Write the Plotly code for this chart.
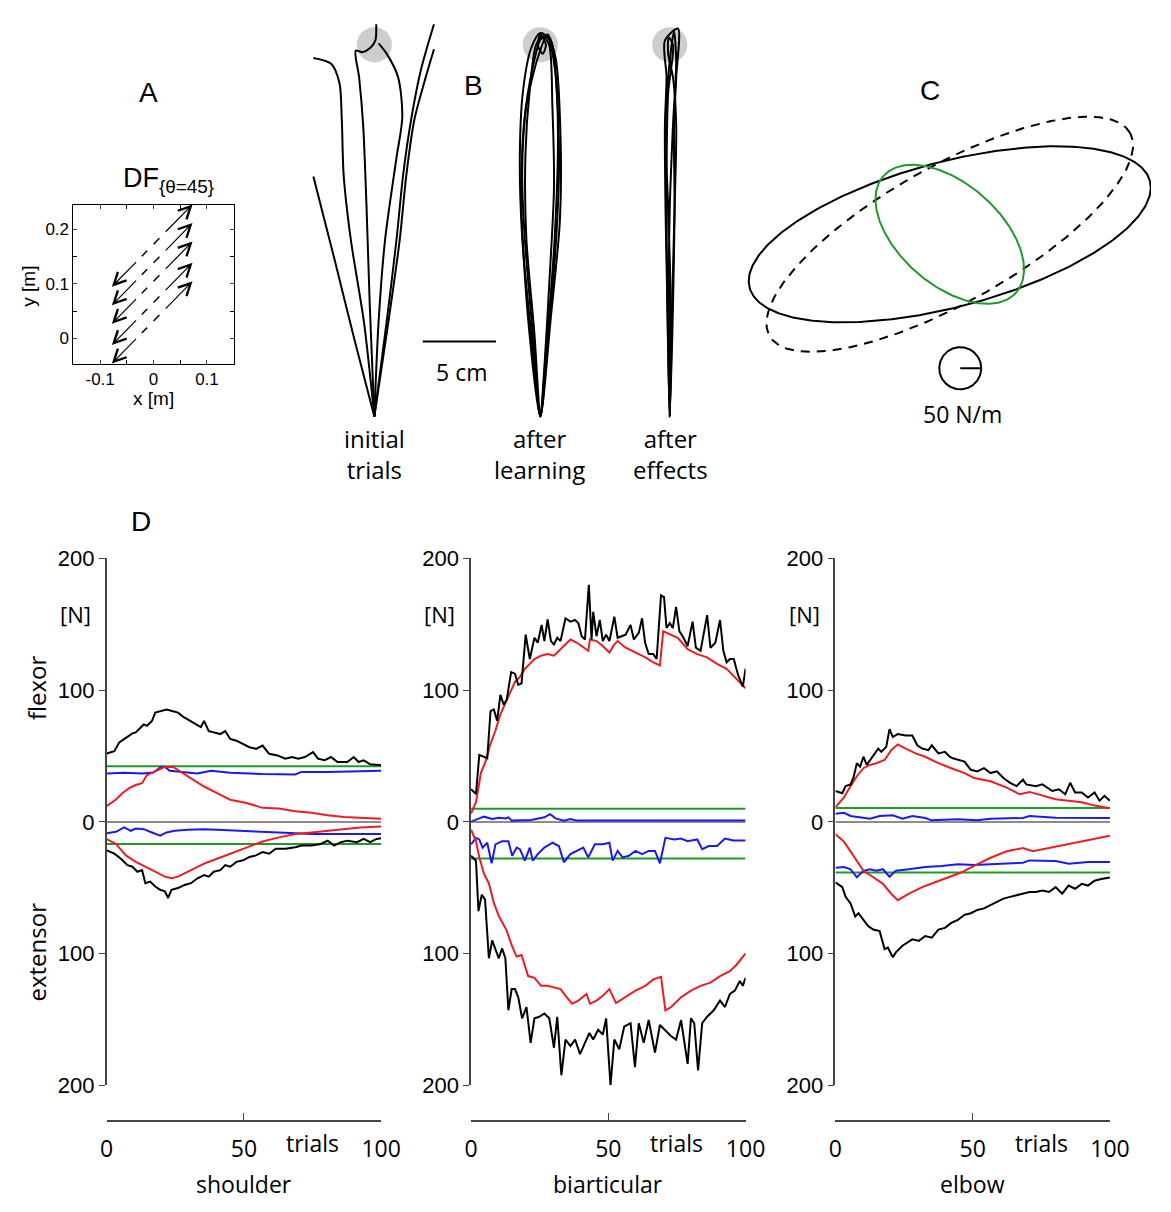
import numpy as np
import plotly.graph_objects as go

W, H = 1171, 1212
ARIAL = "Liberation Sans, Arial, sans-serif"
MYRIAD = "Open Sans, Noto Sans, sans-serif"

# ---------------- Panel A: divergent force field DF (theta = 45) ----------------
A_DIAG_OFFSET = [0.173, 0.139, 0.105, 0.066, 0.032]   # rows of arrows: y = x + c
A_UR_TAIL_X, A_UR_HEAD_X = 0.020, 0.073
A_LL_TAIL_X, A_LL_HEAD_X = -0.030, -0.078
A_DASH_X = [[-0.022, -0.012], [0.000, 0.011]]
A_XTICKS = [-0.1, 0, 0.1]
A_XTICKTEXT = ["-0.1", "0", "0.1"]
A_XMINOR = [-0.05, 0.05]
A_YTICKS = [0, 0.1, 0.2]
A_YTICKTEXT = ["0", "0.1", "0.2"]
A_YMINOR = [0.05, 0.15]

# ---------------- Panel B: hand trajectories [cm] ----------------
B_START_X = [0.0, 11.33, 20.16]
B_TARGET_Y = 25.3
B_TARGET_R = 1.2
B_SCALEBAR_X = [3.3, 8.3]
B_SCALEBAR_Y = 5.1
B_INITIAL_X = [
    [0, -1.38, -2.71, -4.16],
    [0, -0.71, -1.60, -2.09, -2.22, -2.38, -2.93, -4.16],
    [0, -0.31, -0.53, -0.76, -1.04, -1.27, -0.82, -0.27, 0.07, 0.13],
    [0, 0.29, 0.73, 1.51, 1.91, 1.62, 0.84, 0.29],
    [0, 0.84, 1.51, 1.96, 2.51, 3.18, 4.07],
    [0, 0.96, 1.73, 2.18, 2.73, 3.51, 4.07],
]
B_INITIAL_Y = [
    [0, 5.33, 10.67, 16.33],
    [0, 6.44, 12.0, 16.4, 20.2, 22.7, 24.0, 24.4],
    [0, 7.56, 14.2, 19.8, 23.1, 24.9, 24.8, 25.1, 25.6, 26.7],
    [0, 6.44, 12.0, 17.6, 20.4, 23.1, 24.7, 25.4],
    [0, 6.44, 12.0, 16.4, 20.2, 23.6, 26.7],
    [0, 6.44, 12.0, 16.4, 20.2, 23.1, 25.0],
]
B_LEARN_X = [
    [0, -0.62, -1.24, -1.40, -1.18, -0.62, 0, 0.71, 1.11, 1.27, 0.93, 0.38, 0],
    [0, -0.40, -0.96, -1.02, -0.73, -0.29, 0.16, 0.60, 0.82, 0.93, 0.60, 0.27, 0],
    [0, -0.51, -1.07, -1.24, -0.96, -0.18, 0.49, 1.04, 1.38, 1.33, 0.71, 0],
    [0, 0.49, 0.98, 1.20, 1.04, 0.49, 0.04, -0.51, -1.11, -1.29, -0.84, 0],
    [0, -0.18, 0.16, 0.38, 0.04],
]
B_LEARN_Y = [
    [0, 5.56, 12.2, 17.8, 22.2, 25.1, 26.1, 25.6, 22.2, 16.7, 10.0, 4.4, 0],
    [0, 5.56, 12.2, 17.8, 22.2, 25.3, 25.9, 25.3, 21.1, 15.6, 8.9, 3.3, 0],
    [0, 5.56, 12.2, 16.7, 21.1, 24.4, 26.0, 24.4, 18.9, 13.3, 6.7, 0],
    [0, 5.56, 12.2, 18.9, 23.3, 25.8, 25.7, 23.8, 20.0, 14.4, 6.7, 0],
    [26.1, 25.3, 24.7, 25.3, 26.0],
]
B_AFTER_X = [
    [0, -0.16, -0.29, -0.33, -0.22, -0.33, 0.56, 0.44, 0.29, 0.33, 0.22, 0],
    [0, 0.16, 0.33, 0.44, 0.22, -0.11, -0.07, 0.22, -0.11, -0.22, -0.16, 0],
    [0, -0.07, 0, 0.22, 0.44, 0.29, 0, -0.29, -0.11, 0.07, 0],
]
B_AFTER_Y = [
    [0, 7.56, 14.2, 19.8, 23.1, 25.6, 26.4, 23.1, 19.8, 14.2, 7.56, 0],
    [0, 7.56, 14.2, 19.8, 23.1, 24.7, 25.8, 25.3, 22.0, 16.4, 7.56, 0],
    [0, 7.56, 14.2, 19.8, 24.2, 26.2, 24.2, 19.8, 14.2, 7.56, 0],
]

# ---------------- Panel C: stiffness ellipses [N/m] ----------------
C_NAMES = ["solid", "dashed", "green"]
C_SEMI_MAJOR = [493, 492, 210]
C_SEMI_MINOR = [172, 162, 120]
C_ANGLE_DEG = [14.9, 29.3, -41.1]
C_SCALE_CENTER = [25, -318]
C_SCALE_R = 50

# ---------------- Panel D: muscle forces [N] vs trials ----------------
SH = {
    "black_up": ([0, 2.8, 4.6, 6.4, 8.2, 9.4, 10.6, 12.3, 13.5, 14.7, 16.5, 17.7, 19.5, 21.8, 24.2, 26, 27.8, 29.5, 31.9, 34.3,
                  35.5, 37.2, 39, 41.4, 43.2, 45, 47.3, 49.7, 52, 54.4, 56.8, 59.2, 62.2, 65.1, 67.5, 69.8, 72.2, 75.2, 77, 79.4,
                  81.7, 84.1, 87.7, 90, 91.8, 93.6, 96, 100],
                 [52, 53.7, 60.4, 63, 65.4, 67.2, 68, 72, 74, 73, 76.6, 83, 84, 85.3, 84, 83, 80, 78, 75.4, 72,
                  76.6, 69, 68, 66.7, 69, 63, 61.7, 59.2, 56.7, 55.5, 58, 51.7, 50.5, 48, 49.3, 48, 49.3, 53, 48, 46.8,
                  49.3, 45.5, 45.5, 49.3, 45.5, 46.8, 43.8, 43]),
    "red_up": ([0, 3.4, 5.8, 8.2, 10.6, 12.9, 14.7, 17, 19.5, 21.2, 24.2, 27, 30.7, 35.5, 40.2, 45, 51, 56.8, 62.7, 68.7,
                74.6, 80.5, 86.5, 92.4, 100],
               [12, 17, 22, 25.6, 28, 29.4, 35.6, 38, 40.5, 41.8, 41.8, 38, 33, 26.9, 21.9, 16.9, 14.4, 10.7, 10.2, 8.2,
                7, 5, 3.7, 3, 2.5]),
    "blue_up": ([0, 6.4, 12.9, 17, 19.5, 21.2, 23, 26.8, 33, 38, 45, 56.8, 68.7, 71, 80.5, 100],
                [36.8, 37.3, 36.8, 37.5, 41.3, 41.8, 38.8, 38, 36.8, 38.8, 37.3, 36.3, 36, 38, 38, 38.8]),
    "blue_dn": ([0, 3.4, 6.4, 8.8, 10.6, 13.5, 16.5, 19.5, 21.8, 24.8, 29.5, 35.5, 40.2, 51, 62.7, 74.6, 86.5, 100],
                [-8.5, -7.5, -4.2, -6.7, -5, -5.5, -8, -10.4, -8, -6.7, -6, -5.5, -6, -6.7, -8, -9.2, -9.2, -9.2]),
    "red_dn": ([0, 3.4, 7, 10.6, 14.1, 17.7, 21.2, 23.6, 26, 30.7, 35.5, 40.2, 45, 51, 56.8, 62.7, 68.7, 74.6, 80.5, 86.5,
                92.4, 100],
               [-13, -16.7, -25.4, -30.3, -34, -37.8, -41.5, -42.8, -41.5, -36.6, -31.6, -27.9, -24.1, -19.2, -14.9, -11.7,
                -9.2, -8, -6.7, -5.5, -4.2, -3.5]),
    "black_dn": ([0, 2.8, 5.2, 7.6, 9.4, 11.2, 12.9, 14.1, 15.9, 17.7, 19.5, 21.2, 22.4, 23.6, 26, 28.4, 30.7, 33.1, 35.5, 37.2,
                  39, 41.4, 43.2, 45, 47.3, 49.7, 52, 54.4, 56.8, 59.2, 61.6, 65.1, 68.7, 71, 74.6, 78, 80.5, 82.9, 85.3, 87.7,
                  91.2, 93.6, 96, 98.3, 100],
                 [-21.6, -24.1, -27.9, -32.8, -34, -37.8, -36.6, -46.5, -45.3, -49, -51.5, -52.7, -57.7, -51.5, -50.2, -47.8,
                  -46.5, -42.8, -40.3, -41.5, -37.8, -36.6, -32.8, -34, -30.3, -29.1, -26.6, -25.4, -22.9, -24.1, -20.4, -20.4,
                  -19.2, -17.9, -17.9, -16.7, -14.2, -17.9, -15.4, -14.2, -15.4, -12.9, -15.4, -12.9, -12.4]),
    "green": (42.3, -16.7),
}
BI = {
    "black_up": ([0, 1.8, 3, 4.7, 5.9, 7.1, 8.3, 9.5, 10.7, 11.9, 13, 14.6, 16, 17.2, 18.4, 19.9, 21.4, 23.1, 24.3, 25.7,
                  26.7, 27.9, 29.1, 30.2, 31.4, 32.6, 34.4, 36.2, 37.9, 39.1, 40.3, 41.5, 42.9, 43.9, 44.5, 45.7, 46.9, 48, 49.2,
                  50.4, 52.2, 53.4, 55.2, 56.3, 58.1, 59.3, 61.1, 62.3, 63.4, 64.7, 66.4, 67.6, 69.2, 70.3, 71.2, 72.4, 73.5,
                  74.7, 75.9, 77.1, 78.9, 80.7, 81.9, 83.6, 86, 87.2, 89, 90.7, 91.9, 93.1, 94.3, 95.7, 97.3, 99, 100],
                 [24.9, 21.2, 50.9, 49.6, 48.4, 84.2, 85.4, 76.8, 96.5, 89.1, 92.8, 113.8, 112.6, 104, 105.2, 142.2, 123.7,
                  139.8, 136, 149.6, 137.3, 153.8, 137.3, 134.8, 139.8, 137.3, 154.6, 152.1, 153.3, 150.9, 141, 138.5, 180,
                  138.5, 159.5, 141, 153.3, 137.3, 142.2, 137.3, 155.8, 139.8, 141, 142.2, 149.6, 138.5, 143.5, 154.6, 136,
                  127.4, 127.4, 123.7, 171.9, 170.6, 147.2, 150.9, 147.2, 163.2, 144.7, 141, 133.6, 152.1, 132.3, 129.9, 157,
                  132.3, 136, 153.3, 129.9, 121.2, 123.7, 123.7, 111.4, 102.7, 116.3]),
    "red_up": ([0, 1.8, 3.6, 5.3, 7.1, 8.9, 10.7, 12.5, 14.2, 16, 17.8, 19.6, 21.4, 23.1, 25.5, 27.9, 30.2, 32.6, 35, 36.2,
                38.6, 40.9, 42.7, 43.3, 45.7, 48, 50.4, 52.2, 53.4, 56.3, 59.9, 63.5, 66.4, 68.8, 70, 72.4, 75.3, 78.9, 82.4,
                86, 89.6, 93.1, 96.7, 100],
               [6.4, 15, 37.3, 45.9, 59.5, 69.4, 81.7, 90.4, 99, 106.4, 110.1, 116.3, 120, 123.7, 126.2, 127.4, 126.2, 131.1,
                136, 138.5, 136, 132.3, 129.9, 138.5, 137.3, 133.6, 128.6, 134.8, 137.3, 132.3, 128.6, 124.9, 121.2, 118.8,
                144.7, 142.2, 139.8, 131.1, 127.4, 124.9, 120, 116.3, 108.9, 101.5]),
    "blue_up": ([0, 3, 4.7, 7.7, 10.1, 12.5, 13.6, 14.8, 21.9, 26.7, 28.8, 30.8, 33.8, 36.2, 38.6, 45.7, 52.8, 69.4, 100],
                [0.2, 2.7, 4, 2.2, 3.2, 2.7, 3.5, 1, 1.5, 3.5, 5.9, 2.7, 1, 2.2, 1, 1, 1, 1, 1]),
    "blue_dn": ([0, 1.8, 3, 4.2, 5.9, 7.5, 8.9, 11.3, 13.6, 15, 16.6, 17.8, 19.6, 21.4, 22.5, 24.3, 26.7, 29.7, 32, 33.8,
                 36.2, 38.6, 40.9, 42.7, 45.1, 48, 50.4, 51.6, 53.4, 55.2, 57.5, 59.9, 62.3, 64.7, 67, 68.8, 70.8, 74.1, 76.5,
                 78.9, 82.4, 84.2, 86.6, 89.6, 92.5, 95.5, 100],
                [-17, -12.1, -13.3, -19.5, -15.8, -31.4, -17, -14.6, -14.6, -25.7, -19.5, -20.7, -29.4, -19.5, -29.4, -24.4,
                 -19.5, -15.8, -18.3, -30.6, -24.4, -22, -19.5, -26.9, -17, -17, -15.8, -29.4, -22, -26.9, -25.7, -22, -24.4,
                 -22, -22, -31.4, -12.1, -13.3, -12.6, -14.6, -13.3, -20.7, -18.3, -18.3, -12.6, -14.1, -14.1]),
    "red_dn": ([0, 1.8, 3, 4.7, 6.5, 8.3, 10.1, 11.9, 13, 14.8, 16.6, 18.4, 20.8, 23.1, 25.5, 27.9, 30.2, 32.6, 34.4, 36.8,
                39.1, 42.1, 43.3, 45.7, 48, 50.4, 52.8, 55.2, 57.5, 59.9, 63.5, 66.4, 69.2, 70.8, 72.9, 76.5, 80.1, 83.6, 87.2,
                90.7, 94.3, 96.7, 100],
               [-5.9, -14.6, -26.9, -39.3, -46.7, -61.5, -71.4, -78.8, -82.5, -93.6, -102.2, -101, -117, -118.3, -124.4,
                -124.4, -125.7, -126.9, -131.9, -138, -135.6, -130.6, -138, -135.6, -131.9, -126.9, -137.5, -134.3, -131.9,
                -128.1, -124.4, -119.5, -117.5, -143, -140.5, -133.1, -128.1, -124.4, -122, -117, -113.3, -108.4, -99.8]),
    "black_dn": ([0, 1.8, 2.7, 3.9, 5.1, 6.5, 7.7, 8.9, 10.1, 11.3, 12.5, 13.6, 14.8, 16, 17.2, 18.6, 20.2, 21.7, 23.1, 24.9,
                  26.7, 28.5, 30.2, 31.4, 32.9, 34.4, 36.2, 37.9, 39.7, 41.5, 43.1, 44.5, 46.3, 48, 49.2, 50.8, 52.2, 54, 55.8,
                  58.1, 59.7, 61.1, 62.9, 64.7, 67, 68.8, 70.6, 72.9, 74.7, 76.5, 78.9, 80.1, 81.3, 82.7, 84.2, 86, 88.4, 90.7,
                  92.5, 94.3, 96.1, 97.9, 99, 100],
                 [-25.7, -29.4, -67.7, -55.3, -59, -103.5, -89.9, -96, -103.5, -96, -103.5, -143, -126.9, -126.9, -133.1,
                  -149.1, -140.5, -167.7, -149.1, -147.9, -145.4, -149.1, -171.4, -147.9, -192.3, -165.2, -170.1, -165.2,
                  -176.3, -167.7, -160.2, -165.2, -157.8, -161.5, -149.1, -199.8, -165.2, -172.6, -155.3, -152.8, -186.2,
                  -152.8, -167.7, -150.4, -175.1, -154.1, -157.8, -162.7, -165.2, -150.4, -183.7, -149.1, -152.8, -188.6,
                  -152.8, -147.9, -143, -135.6, -140.5, -130.6, -128.1, -120.7, -124.4, -118.3]),
    "green": (10.1, -27.7),
}
EL = {
    "black_up": ([0, 2.5, 3.7, 5.5, 6.6, 7.8, 9, 10.2, 11.4, 12.6, 14.4, 15.6, 16.7, 18.5, 19.7, 20.9, 22.7, 25.6, 28, 29.8,
                  31.6, 33.9, 35.1, 37.5, 39.9, 41.6, 42.8, 44.6, 47, 49.3, 51.7, 54.1, 56.5, 58.8, 61.2, 63.6, 66, 68.3, 69.5,
                  73, 75.4, 79, 81.4, 83.7, 85.5, 87.3, 89.7, 92, 94.4, 96.2, 98, 100],
                 [23.5, 21.8, 27.2, 28.5, 34, 44.6, 42, 49.5, 43.3, 47, 52, 55.7, 53.2, 57, 70.5, 64.4, 66.8, 65.6, 65.6, 58.2,
                  55.7, 54.5, 58.2, 52, 53.2, 49.5, 48.3, 47, 45.8, 39.6, 38.4, 40.8, 37.1, 38.4, 33.4, 29.7, 27.2, 32.2, 28.5,
                  27.2, 28.5, 23.5, 24.8, 21, 29.7, 22.3, 22.3, 18.6, 22.3, 16.1, 19.8, 16.1]),
    "red_up": ([0, 3.1, 5.5, 7.8, 10.2, 12.6, 14.9, 17.9, 20.3, 22.7, 25.6, 29.2, 32.7, 37.5, 42.2, 47, 50.5, 56.5, 62.4, 67.1,
                70.7, 75.4, 80.2, 84.9, 89.7, 94.4, 100],
               [11.1, 18.6, 27.2, 34.7, 40.8, 43.3, 44.6, 47, 54.5, 58.9, 55.7, 52, 49.5, 44.6, 40.8, 37.1, 33.4, 30.9, 26, 21,
                22.8, 20.3, 17.3, 16.1, 14.9, 12.4, 10.4]),
    "blue_up": ([0, 3.1, 5.5, 9, 12.6, 16.1, 20.9, 24.4, 28, 32.7, 35, 44.6, 51.7, 56.5, 68.3, 70.7, 80.2, 100],
                [6.2, 6.9, 4.5, 3.7, 2.5, 4.5, 5, 2.5, 4.5, 3, 1.2, 2, 1.2, 2.5, 3, 4.5, 3.2, 3]),
    "blue_dn": ([0, 3.1, 5.5, 7.8, 10.2, 12.6, 14.9, 17.3, 19.7, 22, 26.8, 32.7, 38.7, 44.6, 50.5, 56.5, 62.4, 68.3, 70.7,
                 80.2, 85, 92, 100],
                [-34.7, -34.2, -35.9, -42, -37.1, -35.9, -37.1, -35.9, -41.6, -37.1, -35.9, -34.2, -33.4, -32.2, -32.7, -32.2,
                 -31.4, -30.9, -29.2, -29.7, -31.7, -30.4, -30.4]),
    "red_dn": ([0, 3.1, 5.5, 7.8, 10.2, 13.8, 17.3, 20.3, 22.7, 26.8, 31.6, 36.3, 41, 45.8, 50.5, 56.5, 62.4, 68.3, 71.9, 77.8,
                83.7, 89.7, 95.6, 100],
               [-9.4, -14.9, -22.3, -29.7, -37.1, -42, -47, -54.5, -59.4, -54.5, -49.5, -45.8, -42, -38.4, -33.4, -27.2, -22.3,
                -19.8, -22.3, -19.8, -16.8, -14.4, -11.9, -10.4]),
    "black_dn": ([0, 2.5, 3.7, 5.5, 7.2, 8.4, 10.2, 12, 13.8, 16.1, 17.9, 19.1, 20.9, 22, 24.4, 28, 30.4, 32.7, 35.1, 37.5,
                  39.9, 42.2, 44.6, 47, 49.3, 51.7, 54.1, 56.5, 58.8, 61.2, 63.6, 66, 68.3, 70.7, 73, 75.4, 77.8, 80.2, 82.6,
                  84.9, 87.3, 89.7, 92, 94.4, 96.8, 100],
                 [-45.8, -49.5, -56.9, -61.9, -71.8, -69.3, -74.3, -79.2, -81.7, -82.9, -96.5, -95.3, -102.7, -99, -94, -89.1,
                  -90.3, -86.6, -87.9, -81.7, -80.4, -76.7, -74.3, -70.5, -69.3, -66.8, -65.6, -63.1, -60.6, -58.2, -56.9,
                  -55.7, -54.5, -53.2, -53.2, -52, -53.2, -49.5, -54.5, -48.3, -50.7, -47, -48.3, -44.6, -43.3, -42.1]),
    "green": (10.6, -38.4),
}
D_PANELS = [SH, BI, EL]
D_NAMES = ["shoulder", "biarticular", "elbow"]
D_YTICKS = [-200, -100, 0, 100, 200]
D_YTICKTEXT = ["200", "100", "0", "100", "200"]
D_XTICKS = [0, 50, 100]

BLACK = "#000000"
RED = "#ec1c24"
BLUE = "#1a1aee"
GREEN = "#1f9a2a"
GRAY = "#8c8c8c"

# ---------------- helpers (pixel layout -> paper) ----------------
def dx(x0, x1):
    return [x0 / W, x1 / W]

def dy(ytop, ybot):
    return [1 - ybot / H, 1 - ytop / H]

def ann(text, x, y, size, family=MYRIAD, angle=0, xanchor="center"):
    return dict(text=text, x=x / W, y=1 - y / H, xref="paper", yref="paper",
                showarrow=False, textangle=angle, xanchor=xanchor, yanchor="middle",
                font=dict(size=size, family=family, color="black"))

fig = go.Figure()
annotations = []
shapes = []

# ---------------- Panel A ----------------
for c in A_DIAG_OFFSET:
    for tail, head in [(A_UR_TAIL_X, A_UR_HEAD_X), (A_LL_TAIL_X, A_LL_HEAD_X)]:
        annotations.append(dict(x=head, y=head + c, ax=tail, ay=tail + c, xref="x", yref="y",
                                axref="x", ayref="y", showarrow=True, arrowhead=5,
                                arrowsize=2.0, arrowwidth=1.2, arrowcolor="black", text=""))
    for seg in A_DASH_X:
        fig.add_trace(go.Scatter(x=seg, y=[s + c for s in seg], mode="lines",
                                 line=dict(color="black", width=1.5), xaxis="x", yaxis="y",
                                 showlegend=False, hoverinfo="skip"))

# ---------------- Panel B ----------------
groups = [(B_INITIAL_X, B_INITIAL_Y), (B_LEARN_X, B_LEARN_Y), (B_AFTER_X, B_AFTER_Y)]
for gi, (gx, gy) in enumerate(groups):
    x0 = B_START_X[gi]
    shapes.append(dict(type="circle", xref="x2", yref="y2", layer="below",
                       x0=x0 - B_TARGET_R, x1=x0 + B_TARGET_R,
                       y0=B_TARGET_Y - B_TARGET_R, y1=B_TARGET_Y + B_TARGET_R,
                       fillcolor="#cdcdcd", line=dict(width=0)))
    for tx, ty in zip(gx, gy):
        fig.add_trace(go.Scatter(x=[x0 + v for v in tx], y=ty, mode="lines",
                                 line=dict(color="black", width=2, shape="spline", smoothing=0.8),
                                 xaxis="x2", yaxis="y2", showlegend=False, hoverinfo="skip"))
fig.add_trace(go.Scatter(x=B_SCALEBAR_X, y=[B_SCALEBAR_Y] * 2, mode="lines",
                         line=dict(color="black", width=2), xaxis="x2", yaxis="y2",
                         showlegend=False, hoverinfo="skip"))

# ---------------- Panel C ----------------
t = np.linspace(0, 2 * np.pi, 361)
c_styles = {"solid": dict(color="black", width=2),
            "dashed": dict(color="black", width=2, dash="9px,7px"),
            "green": dict(color=GREEN, width=2)}
for name, a, b, ang in zip(C_NAMES, C_SEMI_MAJOR, C_SEMI_MINOR, C_ANGLE_DEG):
    ca, sa = np.cos(np.radians(ang)), np.sin(np.radians(ang))
    ex = a * np.cos(t) * ca - b * np.sin(t) * sa
    ey = a * np.cos(t) * sa + b * np.sin(t) * ca
    fig.add_trace(go.Scatter(x=ex, y=ey, mode="lines", line=c_styles[name],
                             xaxis="x3", yaxis="y3", showlegend=False, hoverinfo="skip"))
cx, cy = C_SCALE_CENTER
fig.add_trace(go.Scatter(x=cx + C_SCALE_R * np.cos(t), y=cy + C_SCALE_R * np.sin(t), mode="lines",
                         line=dict(color="black", width=2), xaxis="x3", yaxis="y3",
                         showlegend=False, hoverinfo="skip"))
fig.add_trace(go.Scatter(x=[cx, cx + C_SCALE_R], y=[cy, cy], mode="lines",
                         line=dict(color="black", width=2), xaxis="x3", yaxis="y3",
                         showlegend=False, hoverinfo="skip"))

# ---------------- Panel D ----------------
D_X_PIX = [(102, 383), (475, 756), (848, 1129)]
for k, panel in enumerate(D_PANELS):
    xa, ya = f"x{k + 4}", f"y{k + 4}"
    gu, gd = panel["green"]
    fig.add_trace(go.Scatter(x=[0, 100], y=[0, 0], mode="lines", line=dict(color=GRAY, width=2),
                             xaxis=xa, yaxis=ya, showlegend=False, hoverinfo="skip"))
    for gv in (gu, gd):
        fig.add_trace(go.Scatter(x=[0, 100], y=[gv, gv], mode="lines", line=dict(color=GREEN, width=2),
                                 xaxis=xa, yaxis=ya, showlegend=False, hoverinfo="skip"))
    for key, col in [("blue_up", BLUE), ("blue_dn", BLUE), ("red_up", RED), ("red_dn", RED),
                     ("black_up", BLACK), ("black_dn", BLACK)]:
        tx, ty = panel[key]
        fig.add_trace(go.Scatter(x=tx, y=ty, mode="lines", line=dict(color=col, width=2),
                                 xaxis=xa, yaxis=ya, showlegend=False, hoverinfo="skip"))

# ---------------- layout (figure fills the whole window) ----------------
layout = dict(autosize=True, margin=dict(l=0, r=0, t=0, b=0, pad=0),
              paper_bgcolor="white", plot_bgcolor="rgba(0,0,0,0)", showlegend=False,
              font=dict(family=ARIAL, color="black"))

layout["xaxis"] = dict(domain=dx(68, 232), range=[-0.15, 0.15], anchor="y",
                       tickvals=A_XTICKS, ticktext=A_XTICKTEXT, ticks="inside", ticklen=4,
                       minor=dict(tickvals=A_XMINOR, ticks="inside", ticklen=4, tickcolor="black"),
                       mirror="ticks", showline=True, linecolor="black", linewidth=1,
                       showgrid=False, zeroline=False, tickfont=dict(size=17, family=ARIAL))
layout["yaxis"] = dict(domain=dy(197, 359), range=[-0.046, 0.245], anchor="x",
                       tickvals=A_YTICKS, ticktext=A_YTICKTEXT, ticks="inside", ticklen=4,
                       minor=dict(tickvals=A_YMINOR, ticks="inside", ticklen=4, tickcolor="black"),
                       mirror="ticks", showline=True, linecolor="black", linewidth=1,
                       showgrid=False, zeroline=False, tickfont=dict(size=17, family=ARIAL))

layout["xaxis2"] = dict(domain=dx(290, 730), range=[(290 - 376) / 15, (730 - 376) / 15],
                        anchor="y2", visible=False)
layout["yaxis2"] = dict(domain=dy(0, 480), range=[(413 - 480) / 15, 413 / 15],
                        anchor="x2", visible=False)

layout["xaxis3"] = dict(domain=dx(740, 1171), range=[(740 - 965) / 0.43, (1171 - 965) / 0.43],
                        anchor="y3", visible=False)
layout["yaxis3"] = dict(domain=dy(80, 430), range=[(227 - 430) / 0.43, (227 - 80) / 0.43],
                        anchor="x3", visible=False)

for k, (x0, x1) in enumerate(D_X_PIX):
    n = k + 4
    layout[f"xaxis{n}"] = dict(domain=dx(x0, x1), range=[0, 100], anchor="free",
                               position=1 - 1132 / H, tickvals=D_XTICKS, ticks="inside",
                               ticklen=7, tickcolor="#444", showline=True, linecolor="#444",
                               linewidth=1.5, showgrid=False, zeroline=False,
                               ticklabelstandoff=8, tickfont=dict(size=23, family=MYRIAD))
    layout[f"yaxis{n}"] = dict(domain=dy(558, 1096), range=[-200, 200], anchor=f"x{n}",
                               tickvals=D_YTICKS, ticktext=D_YTICKTEXT, ticks="outside",
                               ticklen=6, tickcolor="#444", showline=True, linecolor="#444",
                               linewidth=1.5, showgrid=False, zeroline=False,
                               tickfont=dict(size=22, family=ARIAL))

annotations += [
    ann("A", 145, 82, 28, ARIAL), ann("B", 478, 75, 28, ARIAL),
    ann("C", 945, 80, 28, ARIAL), ann("D", 137, 520, 28, ARIAL),
    ann("DF<sub>{θ=45}</sub>", 165, 172, 27, ARIAL),
    ann("y [m]", 22, 280, 19, ARIAL, angle=-90), ann("x [m]", 150, 395, 19, ARIAL),
    ann("initial<br>trials", 376, 451, 24), ann("after<br>learning", 545, 451, 24),
    ann("after<br>effects", 679, 451, 24), ann("5 cm", 465, 368, 23),
    ann("50 N/m", 978, 410, 23),
    ann("flexor", 30, 690, 24, angle=-90), ann("extensor", 30, 960, 24, angle=-90),
]
for (x0, x1), name in zip(D_X_PIX, D_NAMES):
    annotations.append(ann("[N]", x0 - 32, 615, 22))
    annotations.append(ann("trials", x0 + 0.75 * (x1 - x0), 1155, 23))
    annotations.append(ann(name, (x0 + x1) / 2, 1197, 23))

layout["annotations"] = annotations
layout["shapes"] = shapes
fig.update_layout(**layout)

POST = ("document.documentElement.style.margin='0';document.body.style.margin='0';"
        "document.body.style.padding='0';document.documentElement.style.overflow='hidden';"
        "document.body.style.overflow='hidden';"
        "var gd=document.getElementById('{plot_id}');"
        "gd.style.position='fixed';gd.style.left='0';gd.style.top='0';"
        "gd.style.width='100vw';gd.style.height='100vh';"
        "Plotly.Plots.resize(gd);")
fig.write_html("out.html", config={"displayModeBar": False, "responsive": True},
               default_width="100vw", default_height="100vh", post_script=POST)
